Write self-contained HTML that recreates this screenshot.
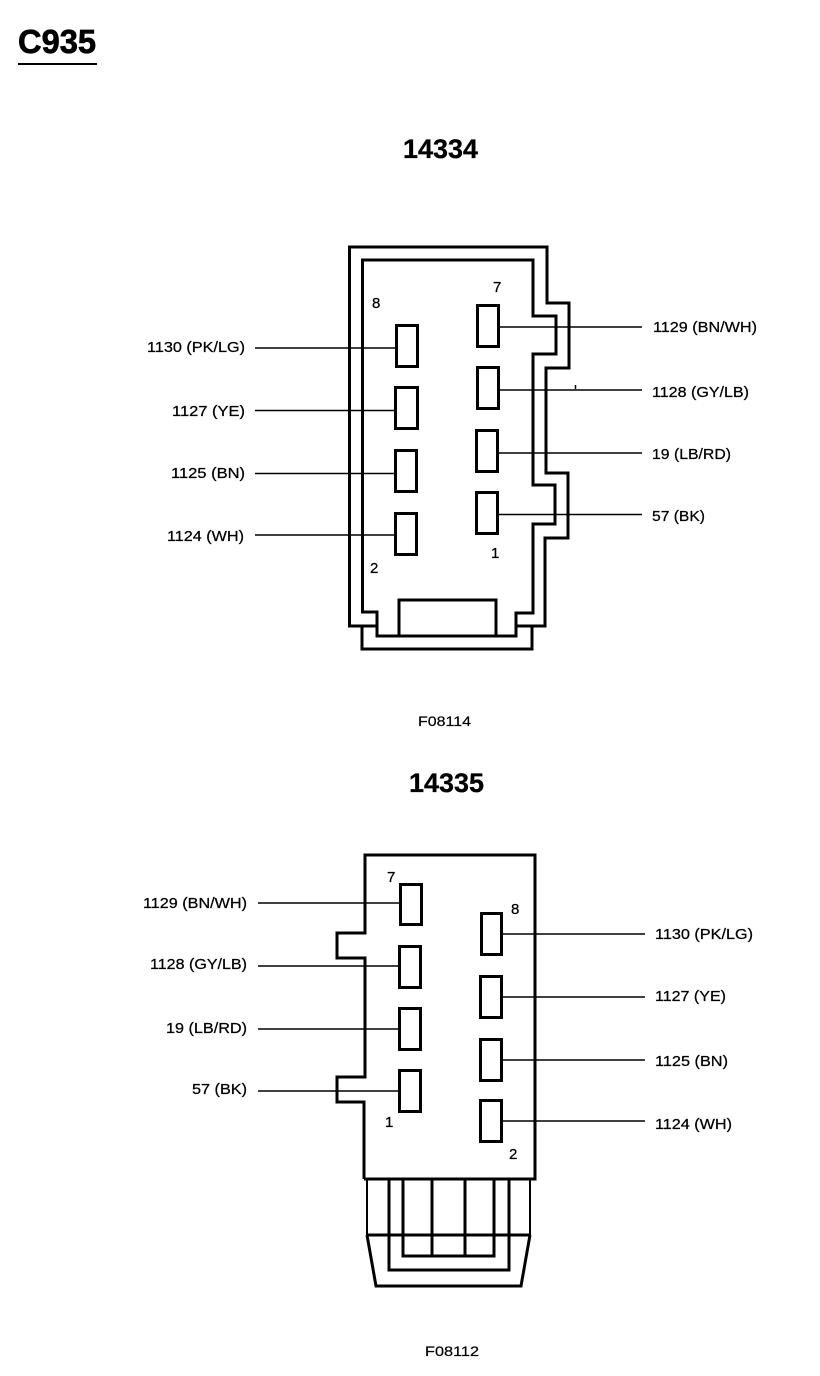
<!DOCTYPE html>
<html>
<head>
<meta charset="utf-8">
<style>
html,body{margin:0;padding:0;background:#fff}
svg{display:block}
text{font-family:"Liberation Sans",sans-serif;fill:#000}
.l{font-size:15px;stroke:#000;stroke-width:.25px}
.n{font-size:15px;stroke:#000;stroke-width:.25px}
.t{font-size:27px;font-weight:bold;stroke:#000;stroke-width:.3px}
.s{stroke:#000;fill:none;stroke-linejoin:miter}
</style>
</head>
<body>
<svg width="820" height="1376" viewBox="0 0 820 1376" xmlns="http://www.w3.org/2000/svg">
<rect width="820" height="1376" fill="#fff"/>
<text x="18" y="53" style="font-size:33px;font-weight:bold;stroke:#000;stroke-width:.7px" textLength="78" lengthAdjust="spacingAndGlyphs">C935</text>
<rect x="18" y="63" width="79" height="2" fill="#000"/>
<text class="t" x="403" y="158" textLength="75" lengthAdjust="spacingAndGlyphs">14334</text>
<text class="t" x="409" y="792" textLength="75" lengthAdjust="spacingAndGlyphs">14335</text>
<text x="418" y="726" style="font-size:14px;stroke:#000;stroke-width:.2px" textLength="53" lengthAdjust="spacingAndGlyphs">F08114</text>
<text x="425" y="1356" style="font-size:14px;stroke:#000;stroke-width:.2px" textLength="54" lengthAdjust="spacingAndGlyphs">F08112</text>

<!-- top connector -->
<g class="s" stroke-width="3">
<path d="M378 626H349.500V247H547V303H569V368H546V473H568V538H545V626H517"/>
<path d="M362.500 260H533V316H556V354H533V485H555V524H533V613H516V636H377V612H362.500Z"/>
<path d="M362 627V649H532V627"/>
<rect x="399" y="600" width="97" height="36"/>
<rect x="396.500" y="325.500" width="21" height="41"/>
<rect x="395.500" y="387.500" width="22" height="41"/>
<rect x="395.500" y="450.500" width="21" height="41"/>
<rect x="395.500" y="513.500" width="21" height="41"/>
<rect x="477.500" y="305.500" width="21" height="41"/>
<rect x="477.500" y="367.500" width="21" height="41"/>
<rect x="476.500" y="430.500" width="21" height="41"/>
<rect x="476.500" y="492.500" width="21" height="41"/>
</g>
<g stroke="#000" stroke-width="1.500" fill="none">
<path d="M255 348H396M255 410.500H395M255 473.500H395M255 535H395"/>
<path d="M498 327H642M498 390H642M498 453H642M498 514.500H642"/>
<path d="M575.500 385V389"/>
</g>
<text class="n" x="372" y="308">8</text>
<text class="n" x="493" y="292">7</text>
<text class="n" x="491" y="558">1</text>
<text class="n" x="370" y="573">2</text>
<text class="l" x="147" y="352" textLength="98" lengthAdjust="spacingAndGlyphs">1130 (PK/LG)</text>
<text class="l" x="172" y="416" textLength="73" lengthAdjust="spacingAndGlyphs">1127 (YE)</text>
<text class="l" x="171" y="478" textLength="74" lengthAdjust="spacingAndGlyphs">1125 (BN)</text>
<text class="l" x="167" y="541" textLength="77" lengthAdjust="spacingAndGlyphs">1124 (WH)</text>
<text class="l" x="653" y="332" textLength="104" lengthAdjust="spacingAndGlyphs">1129 (BN/WH)</text>
<text class="l" x="652" y="397" textLength="97" lengthAdjust="spacingAndGlyphs">1128 (GY/LB)</text>
<text class="l" x="652" y="459" textLength="79" lengthAdjust="spacingAndGlyphs">19 (LB/RD)</text>
<text class="l" x="652" y="521" textLength="53" lengthAdjust="spacingAndGlyphs">57 (BK)</text>

<!-- bottom connector -->
<g class="s" stroke-width="3">
<path d="M364 1179V1102H337V1077H365V958H337V933H365V855H535V1179H364"/>
<path d="M389 1179V1270H509V1179"/>
<path d="M403 1179V1256H494V1179"/>
<path d="M367 1235L376 1286H521L530 1235"/>
<path d="M432 1179V1256M465 1179V1256M367 1235H530"/>
<rect x="400.500" y="884.500" width="21" height="40"/>
<rect x="399.500" y="946.500" width="21" height="41"/>
<rect x="399.500" y="1008.500" width="21" height="41"/>
<rect x="399.500" y="1070.500" width="21" height="41"/>
<rect x="481.500" y="913.500" width="20" height="41"/>
<rect x="480.500" y="976.500" width="21" height="41"/>
<rect x="480.500" y="1039.500" width="21" height="41"/>
<rect x="480.500" y="1100.500" width="21" height="41"/>
</g>
<g stroke="#000" stroke-width="2" fill="none">
<path d="M367 1179V1235M530 1179V1235"/>
</g>
<g stroke="#000" stroke-width="1.500" fill="none">
<path d="M258 903H400M258 966H399M258 1029H399M258 1091H399"/>
<path d="M502 934H645M502 997H645M502 1060H645M502 1121H645"/>
</g>
<text class="n" x="387" y="882">7</text>
<text class="n" x="511" y="914">8</text>
<text class="n" x="385" y="1127">1</text>
<text class="n" x="509" y="1159">2</text>
<text class="l" x="143" y="908" textLength="104" lengthAdjust="spacingAndGlyphs">1129 (BN/WH)</text>
<text class="l" x="150" y="969" textLength="97" lengthAdjust="spacingAndGlyphs">1128 (GY/LB)</text>
<text class="l" x="166" y="1033" textLength="81" lengthAdjust="spacingAndGlyphs">19 (LB/RD)</text>
<text class="l" x="192" y="1094" textLength="55" lengthAdjust="spacingAndGlyphs">57 (BK)</text>
<text class="l" x="655" y="939" textLength="98" lengthAdjust="spacingAndGlyphs">1130 (PK/LG)</text>
<text class="l" x="655" y="1001" textLength="71" lengthAdjust="spacingAndGlyphs">1127 (YE)</text>
<text class="l" x="655" y="1066" textLength="73" lengthAdjust="spacingAndGlyphs">1125 (BN)</text>
<text class="l" x="655" y="1129" textLength="77" lengthAdjust="spacingAndGlyphs">1124 (WH)</text>
</svg>
</body>
</html>
